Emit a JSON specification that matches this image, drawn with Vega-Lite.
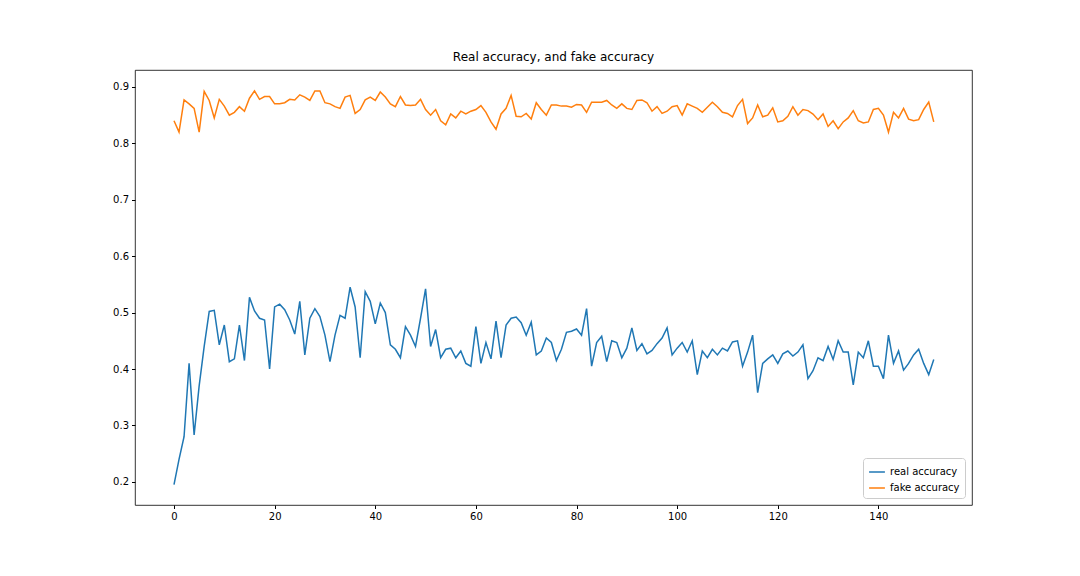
{
  "$schema": "https://vega.github.io/schema/vega-lite/v6.json",
  "width": 837,
  "height": 435,
  "autosize": {"type": "none"},
  "padding": {"left": 135, "top": 70, "right": 108, "bottom": 71},
  "background": "white",
  "title": {"text": "Real accuracy, and fake accuracy", "font": "DejaVu Sans", "fontSize": 12, "fontWeight": "normal", "color": "black", "offset": 6},
  "data": {"values": [
    {"step":0,"real":0.195,"fake":0.84},{"step":1,"real":0.24,"fake":0.82},{"step":2,"real":0.28,"fake":0.877},{"step":3,"real":0.41,"fake":0.87},
    {"step":4,"real":0.283,"fake":0.862},{"step":5,"real":0.37,"fake":0.82},{"step":6,"real":0.44,"fake":0.892},{"step":7,"real":0.502,"fake":0.876},
    {"step":8,"real":0.504,"fake":0.845},{"step":9,"real":0.443,"fake":0.878},{"step":10,"real":0.478,"fake":0.866},{"step":11,"real":0.413,"fake":0.85},
    {"step":12,"real":0.418,"fake":0.855},{"step":13,"real":0.478,"fake":0.865},{"step":14,"real":0.415,"fake":0.857},{"step":15,"real":0.527,"fake":0.88},
    {"step":16,"real":0.503,"fake":0.893},{"step":17,"real":0.49,"fake":0.878},{"step":18,"real":0.487,"fake":0.883},{"step":19,"real":0.4,"fake":0.883},
    {"step":20,"real":0.51,"fake":0.87},{"step":21,"real":0.515,"fake":0.87},{"step":22,"real":0.505,"fake":0.872},{"step":23,"real":0.487,"fake":0.878},
    {"step":24,"real":0.462,"fake":0.877},{"step":25,"real":0.52,"fake":0.886},{"step":26,"real":0.425,"fake":0.882},{"step":27,"real":0.49,"fake":0.876},
    {"step":28,"real":0.507,"fake":0.893},{"step":29,"real":0.493,"fake":0.893},{"step":30,"real":0.46,"fake":0.872},{"step":31,"real":0.413,"fake":0.87},
    {"step":32,"real":0.46,"fake":0.865},{"step":33,"real":0.495,"fake":0.862},{"step":34,"real":0.49,"fake":0.882},{"step":35,"real":0.545,"fake":0.885},
    {"step":36,"real":0.51,"fake":0.853},{"step":37,"real":0.42,"fake":0.86},{"step":38,"real":0.537,"fake":0.877},{"step":39,"real":0.52,"fake":0.882},
    {"step":40,"real":0.48,"fake":0.876},{"step":41,"real":0.517,"fake":0.891},{"step":42,"real":0.5,"fake":0.882},{"step":43,"real":0.443,"fake":0.87},
    {"step":44,"real":0.435,"fake":0.865},{"step":45,"real":0.42,"fake":0.883},{"step":46,"real":0.475,"fake":0.868},{"step":47,"real":0.46,"fake":0.867},
    {"step":48,"real":0.44,"fake":0.868},{"step":49,"real":0.49,"fake":0.878},{"step":50,"real":0.542,"fake":0.86},{"step":51,"real":0.44,"fake":0.85},
    {"step":52,"real":0.47,"fake":0.86},{"step":53,"real":0.42,"fake":0.84},{"step":54,"real":0.435,"fake":0.833},{"step":55,"real":0.437,"fake":0.852},
    {"step":56,"real":0.42,"fake":0.845},{"step":57,"real":0.432,"fake":0.857},{"step":58,"real":0.41,"fake":0.852},{"step":59,"real":0.405,"fake":0.857},
    {"step":60,"real":0.475,"fake":0.86},{"step":61,"real":0.41,"fake":0.867},{"step":62,"real":0.447,"fake":0.855},{"step":63,"real":0.418,"fake":0.838},
    {"step":64,"real":0.485,"fake":0.825},{"step":65,"real":0.42,"fake":0.852},{"step":66,"real":0.478,"fake":0.862},{"step":67,"real":0.49,"fake":0.885},
    {"step":68,"real":0.492,"fake":0.848},{"step":69,"real":0.482,"fake":0.847},{"step":70,"real":0.46,"fake":0.853},{"step":71,"real":0.483,"fake":0.843},
    {"step":72,"real":0.425,"fake":0.872},{"step":73,"real":0.432,"fake":0.86},{"step":74,"real":0.455,"fake":0.85},{"step":75,"real":0.447,"fake":0.868},
    {"step":76,"real":0.415,"fake":0.868},{"step":77,"real":0.435,"fake":0.866},{"step":78,"real":0.465,"fake":0.866},{"step":79,"real":0.467,"fake":0.864},
    {"step":80,"real":0.471,"fake":0.869},{"step":81,"real":0.46,"fake":0.868},{"step":82,"real":0.507,"fake":0.855},{"step":83,"real":0.405,"fake":0.873},
    {"step":84,"real":0.447,"fake":0.873},{"step":85,"real":0.458,"fake":0.873},{"step":86,"real":0.413,"fake":0.876},{"step":87,"real":0.45,"fake":0.868},
    {"step":88,"real":0.447,"fake":0.862},{"step":89,"real":0.42,"fake":0.87},{"step":90,"real":0.437,"fake":0.862},{"step":91,"real":0.473,"fake":0.86},
    {"step":92,"real":0.433,"fake":0.876},{"step":93,"real":0.445,"fake":0.877},{"step":94,"real":0.427,"fake":0.872},{"step":95,"real":0.433,"fake":0.857},
    {"step":96,"real":0.445,"fake":0.865},{"step":97,"real":0.455,"fake":0.853},{"step":98,"real":0.473,"fake":0.857},{"step":99,"real":0.425,"fake":0.865},
    {"step":100,"real":0.437,"fake":0.867},{"step":101,"real":0.447,"fake":0.85},{"step":102,"real":0.43,"fake":0.87},{"step":103,"real":0.45,"fake":0.866},
    {"step":104,"real":0.39,"fake":0.862},{"step":105,"real":0.432,"fake":0.855},{"step":106,"real":0.42,"fake":0.864},{"step":107,"real":0.435,"fake":0.873},
    {"step":108,"real":0.425,"fake":0.865},{"step":109,"real":0.437,"fake":0.855},{"step":110,"real":0.432,"fake":0.853},{"step":111,"real":0.448,"fake":0.847},
    {"step":112,"real":0.45,"fake":0.867},{"step":113,"real":0.405,"fake":0.878},{"step":114,"real":0.43,"fake":0.835},{"step":115,"real":0.46,"fake":0.845},
    {"step":116,"real":0.358,"fake":0.868},{"step":117,"real":0.41,"fake":0.847},{"step":118,"real":0.418,"fake":0.85},{"step":119,"real":0.425,"fake":0.863},
    {"step":120,"real":0.41,"fake":0.838},{"step":121,"real":0.427,"fake":0.84},{"step":122,"real":0.432,"fake":0.848},{"step":123,"real":0.423,"fake":0.865},
    {"step":124,"real":0.43,"fake":0.85},{"step":125,"real":0.443,"fake":0.86},{"step":126,"real":0.383,"fake":0.858},{"step":127,"real":0.397,"fake":0.852},
    {"step":128,"real":0.42,"fake":0.842},{"step":129,"real":0.415,"fake":0.852},{"step":130,"real":0.44,"fake":0.83},{"step":131,"real":0.417,"fake":0.84},
    {"step":132,"real":0.45,"fake":0.826},{"step":133,"real":0.43,"fake":0.838},{"step":134,"real":0.43,"fake":0.845},{"step":135,"real":0.372,"fake":0.858},
    {"step":136,"real":0.43,"fake":0.84},{"step":137,"real":0.42,"fake":0.836},{"step":138,"real":0.45,"fake":0.838},{"step":139,"real":0.405,"fake":0.86},
    {"step":140,"real":0.405,"fake":0.862},{"step":141,"real":0.383,"fake":0.85},{"step":142,"real":0.46,"fake":0.82},{"step":143,"real":0.41,"fake":0.855},
    {"step":144,"real":0.432,"fake":0.845},{"step":145,"real":0.398,"fake":0.862},{"step":146,"real":0.41,"fake":0.843},{"step":147,"real":0.425,"fake":0.84},
    {"step":148,"real":0.435,"fake":0.842},{"step":149,"real":0.41,"fake":0.86},{"step":150,"real":0.39,"fake":0.873},{"step":151,"real":0.417,"fake":0.838}
  ]},
  "transform": [
    {"fold": ["real", "fake"], "as": ["series_key", "accuracy"]},
    {"lookup": "series_key", "from": {"data": {"values": [{"series_key": "real", "series": "real accuracy"}, {"series_key": "fake", "series": "fake accuracy"}]}, "key": "series_key", "fields": ["series"]}}
  ],
  "mark": {"type": "line", "strokeWidth": 1.5},
  "encoding": {
    "x": {"field": "step", "type": "quantitative", "scale": {"domain": [-7.75, 158.6], "nice": false, "zero": false},
      "axis": {"values": [0, 20, 40, 60, 80, 100, 120, 140], "title": null, "grid": false}},
    "y": {"field": "accuracy", "type": "quantitative", "scale": {"domain": [0.159, 0.93], "nice": false, "zero": false},
      "axis": {"values": [0.2, 0.3, 0.4, 0.5, 0.6, 0.7, 0.8, 0.9], "format": ".1f", "title": null, "grid": false}},
    "color": {"field": "series", "type": "nominal",
      "scale": {"domain": ["real accuracy", "fake accuracy"], "range": ["#1f77b4", "#ff7f0e"]},
      "legend": {"title": null, "orient": "bottom-right", "symbolType": "stroke", "symbolStrokeWidth": 1.5, "symbolSize": 250,
        "strokeColor": "#cccccc", "fillColor": "white", "padding": 5, "cornerRadius": 3, "offset": 7, "labelFontSize": 10, "labelFont": "DejaVu Sans", "labelColor": "black"}}
  },
  "config": {
    "view": {"stroke": "black", "strokeWidth": 0.8},
    "axis": {"domain": false, "tickColor": "black", "tickSize": 3.5, "labelColor": "black", "labelFont": "DejaVu Sans", "labelFontSize": 10, "labelPadding": 3}
  }
}
